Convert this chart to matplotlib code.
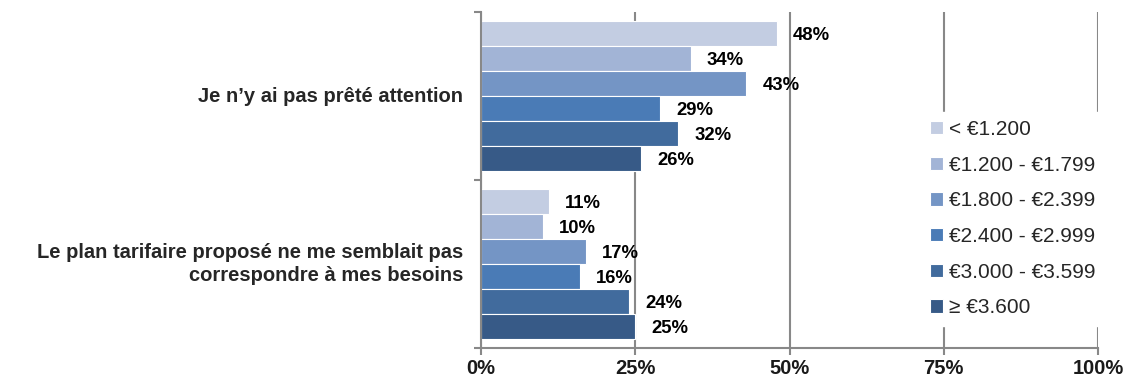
import numpy as np
import matplotlib.pyplot as plt

# ===================================================
# Data
# ===================================================
categories = ["Je n\u2019y ai pas prêté attention",
              "Le plan tarifaire proposé ne me semblait pas\ncorrespondre à mes besoins"]
series = ["< €1.200", "€1.200 - €1.799", "€1.800 - €2.399",
          "€2.400 - €2.999", "€3.000 - €3.599", "≥ €3.600"]
values_attention = [48, 34, 43, 29, 32, 26]
values_plan = [11, 10, 17, 16, 24, 25]
colors = ["#C3CDE2", "#A2B4D6", "#7495C5", "#4A7BB6", "#416B9D", "#375A87"]
xticks = [0, 25, 50, 75, 100]

plt.rcParams['font.family'] = ['Liberation Sans', 'DejaVu Sans']

fig = plt.figure(figsize=(11.28, 3.83), dpi=100)
ax = fig.add_axes([481 / 1128, 1 - 348 / 383, 617 / 1128, 336 / 383])

vals = np.array([values_attention, values_plan])  # (cat, series)
n = len(series)
h = 0.149
ypos = np.arange(len(categories))

for i in range(n):
    y = ypos - (n - 1) / 2 * h + i * h
    ax.barh(y, vals[:, i], height=h, color=colors[i],
            edgecolor='white', linewidth=0.8, label=series[i], zorder=2)
    for yy, v in zip(y, vals[:, i]):
        ax.annotate(f"{v}%", xy=(v, yy), xytext=(16, -2),
                    textcoords='offset pixels', ha='left', va='center',
                    fontsize=13.3, fontweight='bold', color='black')

ax.set_xlim(0, 100)
ax.set_ylim(1.5, -0.5)
ax.set_xticks(xticks)
ax.set_xticklabels([f"{t}%" for t in xticks], fontsize=14.5, fontweight='bold',
                   color='#1a1a1a')
ax.set_yticks([-0.5, 0.5, 1.5])
ax.set_yticklabels([])
ax.tick_params(axis='y', direction='out', length=5, color='#888888', width=1.5)
ax.tick_params(axis='x', direction='out', length=5, color='#888888', width=1.5, pad=3)

for yy, cat in zip(ypos, categories):
    ax.text(-0.029, yy, cat, transform=ax.get_yaxis_transform(),
            ha='right', va='center', fontsize=14.5, fontweight='bold',
            color='#262626', multialignment='right', linespacing=1.25)

for s in ['top', 'right']:
    ax.spines[s].set_visible(False)
ax.spines['left'].set_color('#888888')
ax.spines['bottom'].set_color('#888888')
ax.spines['left'].set_linewidth(1.5)
ax.spines['bottom'].set_linewidth(1.5)

ax.xaxis.grid(True, color='#888888', linewidth=1.5, zorder=0)
ax.set_axisbelow(True)

leg = ax.legend(loc='center left', bbox_to_anchor=(0.698, 0.385), frameon=True,
                fontsize=15, handlelength=0.6, handleheight=0.6,
                handletextpad=0.3, labelspacing=0.8, borderpad=0.4)
leg.get_frame().set_edgecolor('white')
leg.get_frame().set_facecolor('white')
leg.get_frame().set_alpha(1)
for t in leg.get_texts():
    t.set_color('#262626')

fig.savefig('out.png', dpi=100)
